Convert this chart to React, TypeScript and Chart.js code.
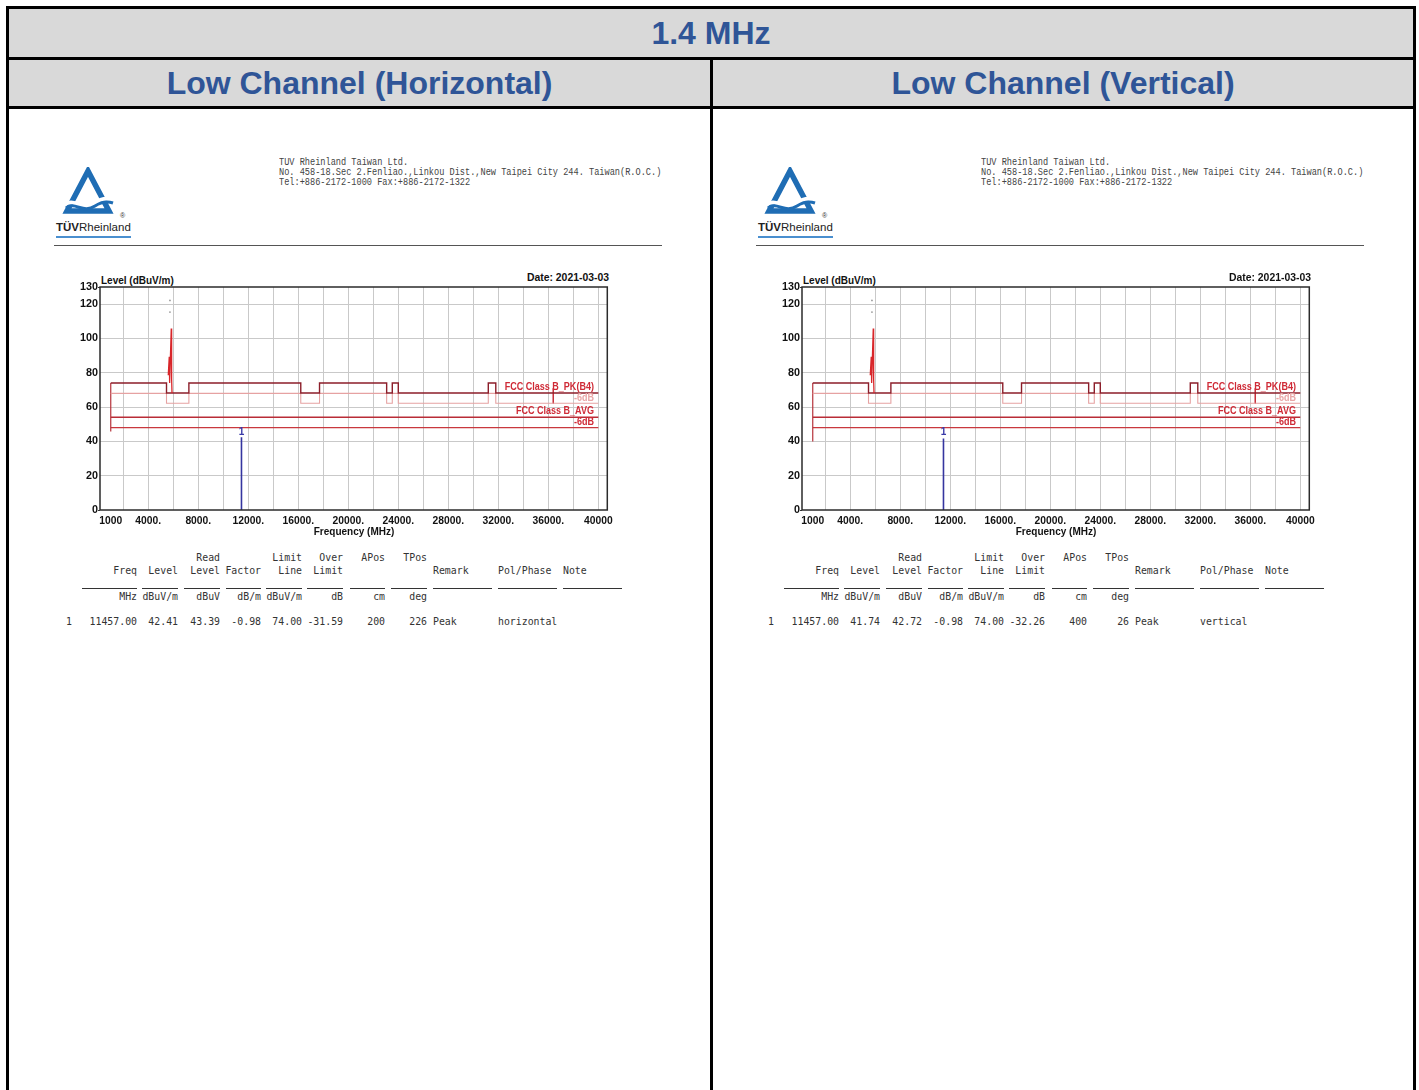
import React, { useEffect, useRef } from "react";
import { Chart, registerables } from "chart.js";

Chart.register(...registerables);
Chart.defaults.font.family = "'Liberation Sans', Arial, sans-serif";

// ---------------- data ----------------
const SECTION_TITLE = "1.4 MHz";
const PANEL_TITLES = ["Low Channel (Horizontal)", "Low Channel (Vertical)"];
const COMPANY_LINES = [
  "TUV Rheinland Taiwan Ltd.",
  "No. 458-18.Sec 2.Fenliao.,Linkou Dist.,New Taipei City 244. Taiwan(R.O.C.)",
  "Tel:+886-2172-1000 Fax:+886-2172-1322",
];
const Y_TITLE = "Level (dBuV/m)";
const X_TITLE = "Frequency (MHz)";
const DATE_TEXT = "Date: 2021-03-03";

const xTickValues = [1000, 4000, 8000, 12000, 16000, 20000, 24000, 28000, 32000, 36000, 40000];
const xTickLabels = ["1000", "4000.", "8000.", "12000.", "16000.", "20000.", "24000.", "28000.", "32000.", "36000.", "40000"];
const xGridValues = [2000, 4000, 6000, 8000, 10000, 12000, 14000, 16000, 18000, 20000, 22000, 24000, 26000, 28000, 30000, 32000, 34000, 36000, 38000, 40000];
const yTickValues = [0, 20, 40, 60, 80, 100, 120, 130];

const pkLimitFreqs = [1000, 5460, 7250, 16200, 17700, 23070, 23520, 24000, 31200, 31800, 40000];
const pkLimitLevels = [74, 68.2, 74, 68.2, 74, 68.2, 74, 68.2, 74, 68.2, 68.2];
const pkMarginLevels = [68, 62.2, 68, 62.2, 68, 62.2, 68, 62.2, 68, 62.2, 62.2];
const avgLimitFreqs = [1000, 40000];
const avgLimitLevels = [54, 54];
const avgMarginLevels = [48, 48];
const limitStartFreqs = [1000, 1000];
const limitStartTop = 74;
const limitStartBottoms = [45.7, 40];
const pkTickFreqs = [36400, 36400];
const pkTickLevels = [71, 62];
const spikeFreqs = [5600, 5680, 5700, 5720, 5840, 5860, 5880, 5900];
const spikeLevels = [78.6, 89.3, 75, 74, 105.8, 89, 76.3, 68.2];
const overRangeFreqs = [5736, 5736];
const overRangeLevels = [122.2, 115.4];

const limitLabels = ["FCC Class B_PK(B4)", "-6dB", "FCC Class B_AVG", "-6dB"];
const limitLabelLevels = [71.8, 65.3, 57.8, 51.4];
const limitLabelColors = ["#cf2a36", "#e9a7a7", "#cf2a36", "#cf2a36"];
const limitLabelFreq = 39650;

const markerFreq = 11457;
const markerLevels = [42.41, 41.74];
const markerLabel = "1";
const markerLabelLevel = 45.4;

const tableHead1 = ["", "", "", "Read", "", "Limit", "Over", "APos", "TPos", "", "", ""];
const tableHead2 = ["", "Freq", "Level", "Level", "Factor", "Line", "Limit", "", "", "Remark", "Pol/Phase", "Note"];
const tableUnits = ["", "MHz", "dBuV/m", "dBuV", "dB/m", "dBuV/m", "dB", "cm", "deg", "", "", ""];
const panelRows = [
  ["1", "11457.00", "42.41", "43.39", "-0.98", "74.00", "-31.59", "200", "226", "Peak", "horizontal", ""],
  ["1", "11457.00", "41.74", "42.72", "-0.98", "74.00", "-32.26", "400", "26", "Peak", "vertical", ""],
];

// ---------------- layout ----------------
const PANEL_DX = [0, 702];
const COL_X = [66, 137, 178, 220, 261, 302, 343, 385, 427, 433, 498, 563];
const COL_ALIGN = ["left", "right", "right", "right", "right", "right", "right", "right", "right", "left", "left", "left"];
const UNDERLINES = [[82, 137], [142, 178], [184, 220], [226, 261], [266, 302], [307, 343], [350, 385], [391, 427], [433, 492], [498, 557], [563, 622]];

const HEADER_BLUE = "#2f5597";
const GRID = "#c9c9c9";

type TProps = {
  x: number; y: number; text: string; align?: string; family?: string; size: number;
  weight?: any; color?: string; style?: React.CSSProperties;
};
function T({ x, y, text, align = "left", family = "'Liberation Sans', Arial, sans-serif", size, weight = "normal", color = "#222", style = {} }: TProps) {
  const lh = Math.ceil(size * 1.3);
  const base: React.CSSProperties = {
    position: "absolute", top: y - lh / 2, lineHeight: lh + "px", height: lh, whiteSpace: "pre",
    fontFamily: family, fontSize: size, fontWeight: weight, color, ...style,
  };
  if (align === "right") return <div style={{ ...base, left: x - 500, width: 500, textAlign: "right" }}>{text}</div>;
  if (align === "center") return <div style={{ ...base, left: x - 500, width: 1000, textAlign: "center" }}>{text}</div>;
  return <div style={{ ...base, left: x }}>{text}</div>;
}

const overlayPlugin = {
  id: "overlay",
  afterDatasetsDraw(chart: any) {
    const { ctx, chartArea: ca, scales } = chart;
    const xs = scales.x, ys = scales.y;
    ctx.save();
    ctx.strokeStyle = "#2b2b2b";
    ctx.lineWidth = 1.5;
    ctx.strokeRect(ca.left, ca.top, ca.right - ca.left, ca.bottom - ca.top);
    ctx.textBaseline = "middle";
    limitLabels.forEach((t, i) => {
      ctx.save();
      ctx.font = "bold 11px 'Liberation Sans', Arial, sans-serif";
      ctx.fillStyle = limitLabelColors[i];
      const px = xs.getPixelForValue(limitLabelFreq);
      const py = ys.getPixelForValue(limitLabelLevels[i]);
      ctx.translate(px, py);
      ctx.scale(0.82, 1);
      ctx.textAlign = "right";
      ctx.fillText(t, 0, 0);
      ctx.restore();
    });
    ctx.font = "bold 10px 'Liberation Sans', Arial, sans-serif";
    ctx.fillStyle = "#3a3aa8";
    ctx.textAlign = "center";
    ctx.fillText(markerLabel, xs.getPixelForValue(markerFreq), ys.getPixelForValue(markerLabelLevel));
    ctx.restore();
  },
};

function LevelChart({ panel }: { panel: number }) {
  const ref = useRef<HTMLCanvasElement>(null);
  useEffect(() => {
    const canvas = ref.current;
    if (!canvas) return;
    const line = (fx: number[], ly: number[], color: string, width: number, extra: any = {}) => ({
      data: fx.map((x, i) => ({ x, y: ly[i] })),
      showLine: true, borderColor: color, backgroundColor: color, borderWidth: width,
      pointRadius: 0, pointHoverRadius: 0, fill: false, tension: 0, borderCapStyle: "butt", ...extra,
    });
    const chart = new Chart(canvas, {
      type: "scatter",
      data: {
        datasets: [
          line([markerFreq, markerFreq], [0, markerLevels[panel]], "#35359f", 1.6),
          line(spikeFreqs, spikeLevels, "#d8262a", 1.3),
          {
            data: overRangeFreqs.map((x, i) => ({ x, y: overRangeLevels[i] })),
            showLine: false, pointRadius: 0.9, backgroundColor: "#9a9a9a", borderWidth: 0,
          },
          line(pkLimitFreqs, pkLimitLevels, "#8c1e2a", 1.4, { stepped: "before" }),
          line(pkLimitFreqs, pkMarginLevels, "#e6a2a2", 1.1, { stepped: "before" }),
          line(limitStartFreqs, [limitStartTop, limitStartBottoms[panel]], "#b6323a", 1.2),
          line(pkTickFreqs, pkTickLevels, "#c8323c", 1),
          line(avgLimitFreqs, avgLimitLevels, "#b92c36", 1.5),
          line(avgLimitFreqs, avgMarginLevels, "#c9383e", 1.2),
        ],
      } as any,
      options: {
        animation: false,
        responsive: false,
        maintainAspectRatio: false,
        devicePixelRatio: 1,
        layout: { padding: { top: 17, right: 12.7, left: 0, bottom: 0 } },
        plugins: { legend: { display: false }, tooltip: { enabled: false }, title: { display: false } },
        scales: {
          x: {
            type: "linear",
            min: 140,
            max: 40720,
            afterBuildTicks: (s: any) => { s.ticks = [1000, ...xGridValues].map((v) => ({ value: v })); },
            afterFit: (s: any) => { s.height = 40; },
            border: { display: false },
            grid: {
              color: (c: any) => (c.tick && c.tick.value === 1000 ? "rgba(0,0,0,0)" : GRID),
              lineWidth: 1,
              drawTicks: false,
            },
            ticks: {
              autoSkip: false,
              maxRotation: 0,
              padding: 5,
              color: "#111",
              font: { size: 10.3, weight: "bold" },
              callback: (v: any) => {
                const i = xTickValues.indexOf(Number(v));
                return i >= 0 ? xTickLabels[i] : "";
              },
            },
          },
          y: {
            type: "linear",
            min: 0,
            max: 130,
            afterBuildTicks: (s: any) => { s.ticks = yTickValues.map((v) => ({ value: v })); },
            afterFit: (s: any) => { s.width = 60; },
            border: { display: false },
            grid: {
              color: (c: any) => (c.tick && (c.tick.value === 0 || c.tick.value === 130) ? "rgba(0,0,0,0)" : GRID),
              tickColor: (c: any) => (c.tick && (c.tick.value === 0 || c.tick.value === 130) ? "#333" : "rgba(0,0,0,0)"),
              tickLength: 2,
              drawTicks: true,
              lineWidth: 1,
            },
            ticks: {
              autoSkip: false,
              padding: 0,
              color: "#111",
              font: { size: 10.8, weight: "bold" },
              callback: (v: any) => String(v),
            },
          },
        },
      } as any,
      plugins: [overlayPlugin],
    });
    return () => chart.destroy();
  }, [panel]);
  return (
    <canvas
      ref={ref}
      width={580}
      height={280}
      style={{ position: "absolute", left: 40 + PANEL_DX[panel], top: 270, width: 580, height: 280, display: "block" }}
    />
  );
}

function Logo({ dx }: { dx: number }) {
  return (
    <>
      <svg style={{ position: "absolute", left: 60 + dx, top: 167 }} width={56} height={50} viewBox="0 0 56 50">
        <polygon points="28,4 7,44 49,44" fill="none" stroke="#1f6db4" strokeWidth={5.5} strokeLinejoin="miter" />
        <path d="M4,38 C14,30 22,44 34,36 C40,32 46,30 54,33" fill="none" stroke="#ffffff" strokeWidth={4} />
        <path d="M6,41 C15,34 23,47 35,39 C41,35 47,34 53,36" fill="none" stroke="#1f6db4" strokeWidth={3} />
      </svg>
      <div style={{ position: "absolute", left: 56 + dx, top: 220, lineHeight: "14px", fontFamily: "'Liberation Sans', Arial, sans-serif", fontSize: 11.5, color: "#222", whiteSpace: "pre" }}>
        <span style={{ fontWeight: "bold" }}>TÜV</span>Rheinland
      </div>
      <div style={{ position: "absolute", left: 120 + dx, top: 211, fontSize: 7, lineHeight: "9px", fontFamily: "'Liberation Sans', Arial", color: "#333" }}>®</div>
      <div style={{ position: "absolute", left: 56 + dx, top: 236, width: 75, height: 2, background: "#4a8fcf" }} />
    </>
  );
}

function Panel({ panel }: { panel: number }) {
  const dx = PANEL_DX[panel];
  const mono = "'DejaVu Sans Mono', 'Liberation Mono', monospace";
  const row = panelRows[panel];
  const renderRow = (cells: string[], y: number, key: string) =>
    cells.map((c, i) =>
      c ? <T key={key + i} x={COL_X[i] + dx} y={y} text={c} align={COL_ALIGN[i]} family={mono} size={9.85} color="#333" /> : null
    );
  return (
    <>
      <Logo dx={dx} />
      {COMPANY_LINES.map((l, i) => (
        <div key={"c" + i} style={{
          position: "absolute", left: 279 + dx, top: 162 + i * 10 - 6, lineHeight: "12px", whiteSpace: "pre",
          fontFamily: "'Liberation Mono', monospace", fontSize: 10.5, color: "#444",
          transform: "scaleX(0.82)", transformOrigin: "0 0",
        }}>{l}</div>
      ))}
      <div style={{ position: "absolute", left: 54 + dx, top: 245, width: 608, height: 1, background: "#555" }} />
      <T x={101 + dx} y={280} text={Y_TITLE} size={10} weight="bold" color="#111" />
      <T x={609 + dx} y={278} text={DATE_TEXT} size={10.4} weight="bold" color="#111" align="right" />
      <LevelChart panel={panel} />
      <T x={354 + dx} y={531} text={X_TITLE} size={10} weight="bold" color="#111" align="center" />
      {renderRow(tableHead1, 557, "h1")}
      {renderRow(tableHead2, 570, "h2")}
      {UNDERLINES.map(([a, b], i) => (
        <div key={"u" + i} style={{ position: "absolute", left: a + dx, top: 588, width: b - a, height: 1, background: "#333" }} />
      ))}
      {renderRow(tableUnits, 596, "un")}
      {renderRow(row, 621, "d")}
    </>
  );
}

export default function App() {
  const black = "#000";
  return (
    <div style={{ position: "absolute", left: 0, top: 0, width: 1419, height: 1090, overflow: "hidden", background: "#fff" }}>
      <div style={{ position: "absolute", left: 9, top: 9, width: 1404, height: 48, background: "#d9d9d9" }} />
      <div style={{ position: "absolute", left: 9, top: 60, width: 1404, height: 46, background: "#d9d9d9" }} />
      <div style={{ position: "absolute", left: 6, top: 6, width: 1410, height: 3, background: black }} />
      <div style={{ position: "absolute", left: 6, top: 57, width: 1410, height: 3, background: black }} />
      <div style={{ position: "absolute", left: 6, top: 106, width: 1410, height: 3, background: black }} />
      <div style={{ position: "absolute", left: 6, top: 6, width: 3, height: 1100, background: black }} />
      <div style={{ position: "absolute", left: 1413, top: 6, width: 3, height: 1100, background: black }} />
      <div style={{ position: "absolute", left: 710, top: 57, width: 3, height: 1100, background: black }} />
      <T x={711} y={33} text={SECTION_TITLE} size={32} weight="bold" color={HEADER_BLUE} align="center" />
      <T x={359.5} y={83} text={PANEL_TITLES[0]} size={32} weight="bold" color={HEADER_BLUE} align="center" />
      <T x={1063} y={83} text={PANEL_TITLES[1]} size={32} weight="bold" color={HEADER_BLUE} align="center" />
      <Panel panel={0} />
      <Panel panel={1} />
    </div>
  );
}
